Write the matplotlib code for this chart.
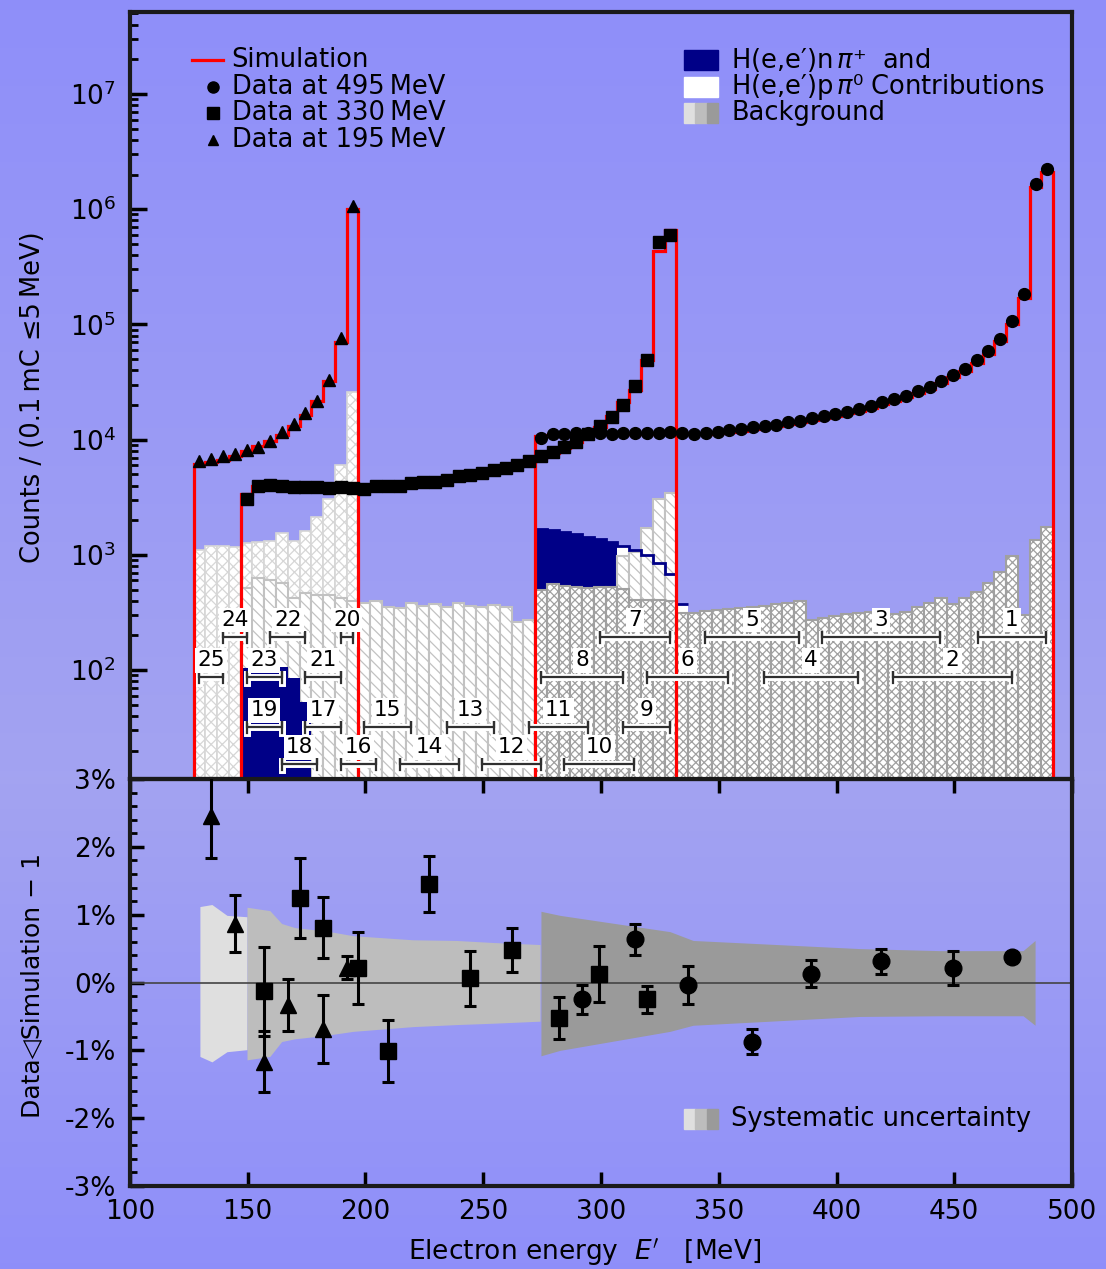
import numpy as np
import matplotlib.pyplot as plt
import matplotlib.patheffects as pe
from matplotlib.ticker import MultipleLocator, LogLocator, NullFormatter, FuncFormatter
from matplotlib.patches import Rectangle
from matplotlib.lines import Line2D

plt.rcParams['font.family'] = ['DejaVu Sans']
plt.rcParams['mathtext.fontset'] = 'dejavusans'
plt.rcParams['hatch.linewidth'] = 0.9

# 5 MeV bins for the three beam energies
edges195 = np.arange(127, 198, 5)
edges330 = np.arange(147, 333, 5)
edges495 = np.arange(272, 493, 5)

# measured counts per bin
data195 = [6580, 6810, 7170, 7520, 8140, 8570, 9670, 11660, 13680, 17040, 21480,
           33170, 76120, 1068000]
data330 = [3060, 3990, 4045, 3935, 3856, 3890, 3856, 3810, 3856, 3810, 3757, 3935,
           3990, 3990, 4206, 4322, 4296, 4500, 4806, 4970, 5140, 5492, 5680, 5990,
           6485, 7170, 7820, 8570, 9550, 11200, 13030, 15730, 19990, 28980, 49100,
           521000, 594000]
data495 = [10340, 11200, 11270, 11340, 11390, 11430, 11200, 11430, 11430, 11430,
           11430, 11570, 11430, 11270, 11430, 11730, 12040, 12380, 12790, 13150,
           13500, 14130, 14610, 15300, 16060, 16580, 17500, 18570, 19600, 21070,
           22540, 24080, 26240, 28820, 32300, 36620, 41040, 48730, 58320, 75160,
           106200, 184500, 1671000, 2254000]

# simulated counts per bin
sim195 = [6150, 6360, 6710, 7270, 7920, 8750, 9670, 10950, 13030, 16470, 21480,
          32000, 69800, 1010000]
sim330 = [3400, 3990, 4000, 3920, 3870, 3860, 3850, 3830, 3830, 3800, 3800, 3900,
          3960, 4000, 4150, 4280, 4330, 4480, 4760, 4950, 5120, 5420, 5680, 5970,
          6420, 7060, 7720, 8480, 9500, 11000, 12900, 15930, 21070, 27160, 49400,
          432000, 658000]
sim495 = [10680, 10900, 11000, 11100, 11150, 11200, 11200, 11200, 11200, 11200,
          11200, 11250, 11200, 11100, 11150, 11400, 11700, 12000, 12400, 12750,
          13100, 13700, 14200, 14800, 15500, 16100, 16900, 17900, 18900, 20300,
          21800, 23300, 25300, 27700, 31000, 35000, 39500, 46500, 55500, 71500,
          100000, 170600, 1560000, 2110000]

# background estimates per bin
bg195 = [1105, 1204, 1204, 1166, 1263, 1305, 1323, 1542, 1323, 1625, 2149, 3042,
         6035, 25930]
bg330 = [514, 636, 607, 568, 426, 471, 450, 450, 421, 401, 386, 394, 356, 349, 383,
         361, 376, 354, 383, 361, 354, 368, 354, 262, 273, 296, 310, 330, 360, 400,
         450, 480, 981, 1068, 1704, 3042, 3428]
bg495 = [497, 557, 542, 531, 520, 531, 531, 510, 407, 407, 407, 394, 312, 312, 329,
         333, 340, 349, 356, 363, 376, 386, 401, 273, 282, 292, 306, 316, 320, 314,
         306, 322, 352, 386, 426, 374, 421, 481, 568, 717, 980, 302, 1349, 1759]

# pion production contributions (background + pion for 495 MeV, first bins)
pion495_total = [1671, 1647, 1573, 1512, 1441, 1376, 1289, 1204, 1105, 1000, 847,
                 684, 373]
n_npi495 = 7          # bins where the n pi+ part is shown filled
npi330 = [104, 106, 120, 107, 86, 53]

# labelled energy intervals: number, low edge, high edge, row
interval_no = list(range(1, 26))
interval_lo = [460, 424, 394, 369, 344, 319.5, 299.5, 274.5, 309.5, 284.5, 269.5,
               249.5, 234.5, 214.5, 199.5, 189.5, 174.5, 164.5, 149.5, 189.5, 174.5,
               159.5, 149.5, 139.5, 129.5]
interval_hi = [489, 474.5, 444, 409, 384, 354, 329.5, 309.5, 329.5, 314, 294.5,
               274.5, 254.5, 239.5, 219.5, 204.5, 189.5, 179.5, 164.5, 194.5, 189.5,
               174.5, 164.5, 149.5, 139.5]
interval_row = ['A', 'B', 'A', 'B', 'A', 'B', 'A', 'B', 'C', 'D', 'C', 'D', 'C', 'D',
                'C', 'D', 'C', 'D', 'C', 'A', 'B', 'A', 'B', 'A', 'B']
row_level = {'A': 195, 'B': 87, 'C': 32, 'D': 15.3}

# Data/Simulation - 1 per interval [%]
resid = [0.37, 0.22, 0.31, 0.13, -0.87, -0.03, 0.64, -0.25, -0.25, 0.13, -0.52,
         0.48, 0.06, 1.45, -1.01, 0.21, 0.81, 1.25, -0.13, 0.22, -0.68, -0.33,
         -1.17, 0.87, 2.46]
resid_err = [0.05, 0.25, 0.18, 0.20, 0.18, 0.28, 0.23, 0.22, 0.20, 0.41, 0.31,
             0.33, 0.40, 0.41, 0.46, 0.53, 0.45, 0.59, 0.66, 0.17, 0.50, 0.38,
             0.45, 0.42, 0.63]

# systematic uncertainty band [%]
sys_E = [[129.7, 134.8, 141.2, 149.7],
         [149.7, 159.4, 164.4, 170, 177.8, 184.9, 194.8, 220.2, 238.7, 254.3, 274.1],
         [274.5, 282.6, 329.3, 339.1, 410, 444, 479.2, 484.3]]
sys_up = [[1.12, 1.15, 0.99, 0.97],
          [1.11, 1.06, 0.87, 0.81, 0.78, 0.75, 0.69, 0.63, 0.62, 0.59, 0.56],
          [1.05, 0.99, 0.75, 0.62, 0.50, 0.47, 0.47, 0.62]]
sys_lo = [[-1.09, -1.17, -1.02, -0.99],
          [-1.14, -1.09, -0.87, -0.83, -0.80, -0.77, -0.72, -0.65, -0.62, -0.60, -0.57],
          [-1.08, -1.00, -0.72, -0.63, -0.50, -0.49, -0.49, -0.63]]
sys_col = ['#dfdfdf', '#bdbdbd', '#9a9a9a']

NAVY = '#000087'
SPINE = '#1a1a1a'

fig = plt.figure(figsize=(11.06, 12.69), dpi=100)

# lavender background with a soft vertical gradient
bgax = fig.add_axes([0, 0, 1, 1], zorder=-10)
t = np.linspace(0, 1, 400)
peak = 0.615
w = np.where(t < peak, 1 - (peak - t) / peak, 1 - (t - peak) / (1 - peak))
ca = np.array([0.560, 0.560, 0.980])
cb = np.array([0.640, 0.640, 0.945])
grad = ca[None, :] * (1 - w[:, None]) + cb[None, :] * w[:, None]
bgax.imshow(grad[:, None, :], aspect='auto', extent=[0, 1, 0, 1])
bgax.axis('off')

ax = fig.add_axes([0.1175, 0.3861, 0.8518, 0.6044])
ax2 = fig.add_axes([0.1175, 0.0654, 0.8518, 0.3207])
for a in (ax, ax2):
    a.set_facecolor('none')
    a.set_xlim(100, 500)
    for s in a.spines.values():
        s.set_linewidth(3)
        s.set_color(SPINE)

ax.set_yscale('log')
ax.set_ylim(11.34, 5.14e7)


def centers(e):
    e = np.asarray(e, dtype=float)
    return 0.5 * (e[1:] + e[:-1])


c195, c330, c495 = centers(edges195), centers(edges330), centers(edges495)

# background histograms
ax.bar(c195, np.array(bg195) - 1, bottom=1, width=5, facecolor='white',
       edgecolor='#d6d6d6', hatch='xxx', lw=1.2, zorder=1)
ax.bar(c330, np.array(bg330) - 1, bottom=1, width=5, facecolor='white',
       edgecolor='#c2c2c2', hatch='\\\\\\', lw=1.5, zorder=3)
ax.bar(c495, np.array(bg495) - 1, bottom=1, width=5, facecolor='white',
       edgecolor='#a0a0a0', hatch='xxxx', lw=1.5, zorder=5)

# pion contributions
k = len(pion495_total)
pcol = [NAVY] * n_npi495 + ['white'] * (k - n_npi495)
ax.bar(c495[:k], np.array(pion495_total) - np.array(bg495[:k]), bottom=bg495[:k],
       width=5, color=pcol, lw=0, zorder=2)
ax.stairs(pion495_total, edges495[:k + 1], baseline=None, color=NAVY, lw=2, zorder=6)
ax.bar(c330[:len(npi330)], np.array(npi330) - 1, bottom=1, width=5, color=NAVY,
       lw=0, zorder=4)

# simulation and data
for sim, e in ((sim195, edges195), (sim330, edges330), (sim495, edges495)):
    ax.stairs(sim, e, baseline=1, color='red', lw=2.3, zorder=7)
ax.plot(c195, data195, '^', color='k', ms=8, zorder=8)
ax.plot(c330, data330, 's', color='k', ms=8.5, zorder=8)
ax.plot(c495, data495, 'o', color='k', ms=8.5, zorder=8)

# interval brackets and numbers
halo = [pe.withStroke(linewidth=5, foreground='white')]
cap = 1.13
for n, lo, hi, r in zip(interval_no, interval_lo, interval_hi, interval_row):
    yv = row_level[r]
    ax.plot([lo, lo, lo, hi, hi, hi], [yv / cap, yv * cap, yv, yv, yv * cap, yv / cap],
            color='#303030', lw=1.6, solid_joinstyle='miter', zorder=9,
            path_effects=halo)
    ax.annotate(str(n), xy=(0.5 * (lo + hi), yv), xytext=(0, 12),
                textcoords='offset points', ha='center', va='center', fontsize=15.5,
                bbox=dict(boxstyle='square,pad=0.1', fc='white', ec='none'),
                zorder=10)

ax.set_yticks([1e2, 1e3, 1e4, 1e5, 1e6, 1e7])
ax.yaxis.set_minor_locator(LogLocator(base=10, subs=np.arange(2, 10), numticks=40))
ax.yaxis.set_minor_formatter(NullFormatter())
ax.tick_params(axis='y', which='major', direction='in', length=12, width=2.5,
               labelsize=19, pad=10)
ax.tick_params(axis='y', which='minor', direction='in', length=6, width=2)
ax.tick_params(axis='x', which='both', bottom=False, labelbottom=False)

# legends drawn by hand
fs = 18.5
tr = ax.transAxes
rows = [0.9374, 0.9022, 0.8683, 0.8331]
ax.add_line(Line2D([0.0655, 0.0984], [rows[0]] * 2, color='red', lw=2.3, transform=tr))
ax.plot([0.0884], [rows[1]], 'o', color='k', ms=8, transform=tr)
ax.plot([0.0884], [rows[2]], 's', color='k', ms=8, transform=tr)
ax.plot([0.0884], [rows[3]], '^', color='k', ms=7, transform=tr)
for y, s in zip(rows, ['Simulation', 'Data at 495\u2009MeV', 'Data at 330\u2009MeV',
                       'Data at 195\u2009MeV']):
    ax.text(0.108, y, s, transform=tr, fontsize=fs, va='center', ha='left')

rrows = [0.9374, 0.9022, 0.8683]
pw, ph = 0.036, 0.025
ax.add_patch(Rectangle((0.588, rrows[0] - ph / 2), pw, ph, color=NAVY, transform=tr))
ax.add_patch(Rectangle((0.588, rrows[1] - ph / 2), pw, ph, color='white', transform=tr))
for i, c in enumerate(sys_col):
    ax.add_patch(Rectangle((0.588 + i * pw / 3, rrows[2] - ph / 2), pw / 3, ph, color=c,
                           transform=tr))
ax.text(0.638, rrows[0], 'H(e,e\u2032)n$\\,\\pi$\u207a  and', transform=tr,
        fontsize=fs, va='center')
ax.text(0.638, rrows[1], 'H(e,e\u2032)p$\\,\\pi$\u2070 Contributions', transform=tr,
        fontsize=fs, va='center')
ax.text(0.638, rrows[2], 'Background', transform=tr, fontsize=fs, va='center')

# lower panel: ratio with systematic band
ax2.set_ylim(-3, 3)
for E, up, lo, c in zip(sys_E, sys_up, sys_lo, sys_col):
    ax2.fill_between(E, lo, up, color=c, lw=0, zorder=1)
ax2.axhline(0, color='#444444', lw=1.2, zorder=2)

xc = 0.5 * (np.array(interval_lo) + np.array(interval_hi))
groups = [(slice(0, 8), 'o', 12), (slice(8, 19), 's', 11.5), (slice(19, 25), '^', 11)]
for sl, m, ms in groups:
    ax2.errorbar(xc[sl], resid[sl], yerr=resid_err[sl], fmt=m, ms=ms, color='k',
                 elinewidth=2.2, capsize=4.5, capthick=2.2, zorder=5)

ax2.set_xticks(np.arange(100, 501, 50))
ax2.set_yticks(np.arange(-3, 4, 1))
ax2.yaxis.set_major_formatter(FuncFormatter(lambda v, p: f'{v:.0f}%'))
ax2.yaxis.set_minor_locator(MultipleLocator(0.2))
ax2.tick_params(axis='x', direction='in', length=10, width=2.5, top=True,
                labelsize=19, pad=9)
ax2.tick_params(axis='y', which='major', direction='in', length=10, width=2.5,
                labelsize=19, pad=10)
ax2.tick_params(axis='y', which='minor', direction='in', length=5, width=2)

for i, c in enumerate(sys_col):
    ax2.add_patch(Rectangle((0.588 + i * pw / 3, 0.165 - 0.024), pw / 3, 0.048,
                            color=c, transform=ax2.transAxes))
ax2.text(0.638, 0.165, 'Systematic uncertainty', transform=ax2.transAxes, fontsize=fs,
         va='center')

fig.text(33 / 1106, 1 - 397 / 1269, 'Counts / (0.1\u2009mC \u22645\u2009MeV)', rotation=90,
         ha='center', va='center', fontsize=18.5)
fig.text(33 / 1106, 1 - 985 / 1269, 'Data\u25c1Simulation \u2212 1', rotation=90,
         ha='center', va='center', fontsize=18)
fig.text(585 / 1106, 1 - 1252 / 1269, r"Electron energy  $E'$   [MeV]", ha='center',
         va='center', fontsize=19)

fig.savefig('out.png', dpi=100)
